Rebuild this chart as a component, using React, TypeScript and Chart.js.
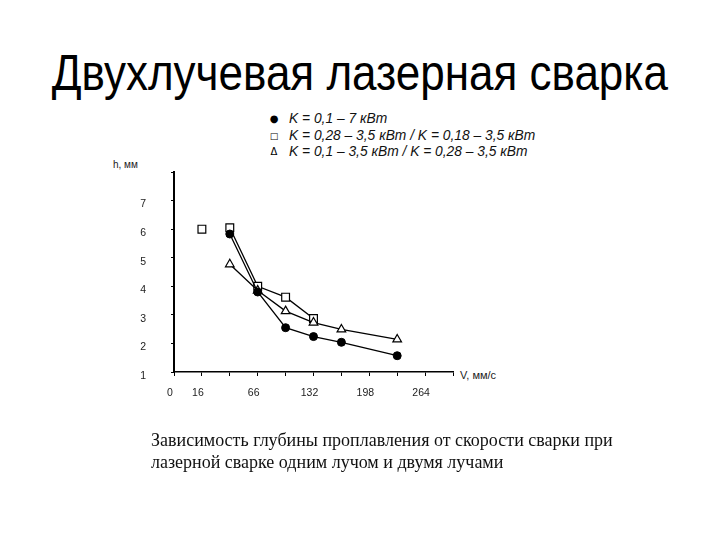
import React, { useEffect, useRef } from "react";
import { Chart, registerables } from "chart.js";

Chart.register(...registerables);

// Speed V, мм/с (x positions of the measured points)
const X_SPEED = [0, 33, 66, 99, 132, 165, 231];
// Depth h, мм
const H_CIRCLE = [null, 5.83, 3.8, 2.55, 2.24, 2.04, 1.57]; // K = 0,1 – 7 кВт
const H_SQUARE = [null, 6.05, 4.0, 3.62, 2.87, null, null]; // K = 0,28 – 3,5 кВт
const H_SQUARE_SINGLE = [6.0, null, null, null, null, null, null]; // K = 0,18 – 3,5 кВт
const H_TRIANGLE = [null, 4.77, 3.85, 3.13, 2.73, 2.49, 2.14]; // K = 0,1 – 3,5 / 0,28 – 3,5 кВт

// Axis ticks
const X_MIN = -33;
const X_MAX = 297;
const X_STEP = 33;
const X_TICK_VALUES = [-33, 0, 66, 132, 198, 264];
const X_TICK_LABELS = ["0", "16", "66", "132", "198", "264"];
const Y_MIN = 1;
const Y_MAX = 8;
const Y_TICK_VALUES = [1, 2, 3, 4, 5, 6, 7];

const LEGEND_MARKERS = ["●", "□", "Δ"];
const LEGEND_TEXTS = [
  "K = 0,1 – 7 кВт",
  "K = 0,28 – 3,5 кВт / K = 0,18 – 3,5 кВт",
  "K = 0,1 – 3,5 кВт / K = 0,28 – 3,5 кВт",
];

const TITLE = "Двухлучевая лазерная сварка";
const CAPTION_LINES = [
  "Зависимость глубины проплавления от скорости сварки при",
  "лазерной сварке одним лучом и двумя лучами",
];

function toPoints(values: (number | null)[]) {
  return X_SPEED.map((x, i) => ({ x, y: values[i] })).filter((p) => p.y !== null);
}

export default function App() {
  const canvasRef = useRef<HTMLCanvasElement | null>(null);

  useEffect(() => {
    if (!canvasRef.current) return;
    const tickFont = { family: "'Liberation Sans', Arial, sans-serif", size: 10.5 };
    const chart = new Chart(canvasRef.current, {
      type: "line",
      data: {
        datasets: [
          {
            label: LEGEND_TEXTS[0],
            data: toPoints(H_CIRCLE),
            borderColor: "#000",
            backgroundColor: "#000",
            borderWidth: 1.3,
            pointStyle: "circle",
            pointRadius: 4,
            pointBorderWidth: 1,
            order: 0,
          },
          {
            label: LEGEND_TEXTS[2],
            data: toPoints(H_TRIANGLE),
            borderColor: "#000",
            backgroundColor: "#fff",
            borderWidth: 1.3,
            pointStyle: "triangle",
            pointRadius: 5,
            pointBorderWidth: 1.2,
            order: 1,
          },
          {
            label: LEGEND_TEXTS[1],
            data: toPoints(H_SQUARE),
            borderColor: "#000",
            backgroundColor: "#fff",
            borderWidth: 1.3,
            pointStyle: "rect",
            pointRadius: 5.5,
            pointBorderWidth: 1.2,
            order: 2,
          },
          {
            label: "K = 0,18 – 3,5 кВт",
            data: toPoints(H_SQUARE_SINGLE),
            borderColor: "#000",
            backgroundColor: "#fff",
            showLine: false,
            pointStyle: "rect",
            pointRadius: 5.5,
            pointBorderWidth: 1.2,
            order: 3,
          },
        ],
      },
      options: {
        responsive: false,
        animation: false,
        layout: { padding: { left: 134, top: 172, right: 267, bottom: 128 } },
        plugins: { legend: { display: false }, tooltip: { enabled: false } },
        elements: { line: { tension: 0 } },
        scales: {
          x: {
            type: "linear",
            min: X_MIN,
            max: X_MAX,
            afterBuildTicks: (scale: any) => {
              const ticks = [];
              for (let v = X_MIN; v <= X_MAX; v += X_STEP) ticks.push({ value: v });
              scale.ticks = ticks;
            },
            afterFit: (scale: any) => {
              scale.height = 40;
            },
            ticks: {
              autoSkip: false,
              maxRotation: 0,
              padding: 11,
              labelOffset: -4,
              color: "#222",
              font: tickFont,
              callback: (v: any) => {
                const i = X_TICK_VALUES.indexOf(Number(v));
                return i >= 0 ? X_TICK_LABELS[i] : "";
              },
            },
            grid: { drawOnChartArea: false, drawTicks: true, tickLength: 4, color: "#000", lineWidth: 1 },
            border: { color: "#000", width: 1.5 },
          },
          y: {
            type: "linear",
            min: Y_MIN,
            max: Y_MAX,
            afterFit: (scale: any) => {
              scale.width = 40;
            },
            ticks: {
              stepSize: 1,
              padding: 25,
              labelOffset: 4,
              color: "#222",
              font: tickFont,
              callback: (v: any) => (Y_TICK_VALUES.includes(Number(v)) ? String(v) : ""),
            },
            grid: { drawOnChartArea: false, drawTicks: true, tickLength: 3, color: "#000", lineWidth: 1 },
            border: { color: "#000", width: 2 },
          },
        },
      },
    });
    return () => chart.destroy();
  }, []);

  const sans = "'Liberation Sans', Arial, sans-serif";
  const markerSizes = [10, 9, 10];

  return (
    <div
      style={{
        position: "absolute",
        left: 0,
        top: 0,
        width: 720,
        height: 540,
        background: "#fff",
        overflow: "hidden",
      }}
    >
      <div
        style={{
          position: "absolute",
          left: 0,
          top: 48,
          width: 720,
          textAlign: "center",
          fontFamily: sans,
          fontSize: 50,
          lineHeight: "50px",
          color: "#000",
          whiteSpace: "nowrap",
          transform: "scaleX(0.88)",
          transformOrigin: "359px 0",
        }}
      >
        {TITLE}
      </div>

      {LEGEND_TEXTS.map((t, i) => (
        <React.Fragment key={i}>
          <div
            style={{
              position: "absolute",
              left: 266,
              top: 111 + i * 16.5,
              width: 16,
              textAlign: "center",
              fontFamily: "'DejaVu Sans', sans-serif",
              fontSize: markerSizes[i],
              lineHeight: "16.5px",
              color: "#000",
            }}
          >
            {LEGEND_MARKERS[i]}
          </div>
          <div
            style={{
              position: "absolute",
              left: 289,
              top: 111 + i * 16.5,
              fontFamily: sans,
              fontStyle: "italic",
              fontSize: 13.8,
              lineHeight: "16.5px",
              color: "#111",
              whiteSpace: "nowrap",
            }}
          >
            {t}
          </div>
        </React.Fragment>
      ))}

      <div
        style={{
          position: "absolute",
          left: 113,
          top: 159,
          fontFamily: sans,
          fontSize: 10,
          lineHeight: "12px",
          color: "#222",
          whiteSpace: "nowrap",
        }}
      >
        h, мм
      </div>
      <div
        style={{
          position: "absolute",
          left: 460,
          top: 369,
          fontFamily: sans,
          fontSize: 11,
          lineHeight: "13px",
          color: "#222",
          whiteSpace: "nowrap",
        }}
      >
        V, мм/с
      </div>

      <canvas
        ref={canvasRef}
        width={720}
        height={540}
        style={{ position: "absolute", left: 0, top: 0, width: 720, height: 540 }}
      />

      <div
        style={{
          position: "absolute",
          left: 151,
          top: 429,
          fontFamily: "'Liberation Serif', 'Times New Roman', serif",
          fontSize: 18,
          lineHeight: "22px",
          color: "#111",
          whiteSpace: "nowrap",
        }}
      >
        {CAPTION_LINES.map((l, i) => (
          <div key={i}>{l}</div>
        ))}
      </div>
    </div>
  );
}
